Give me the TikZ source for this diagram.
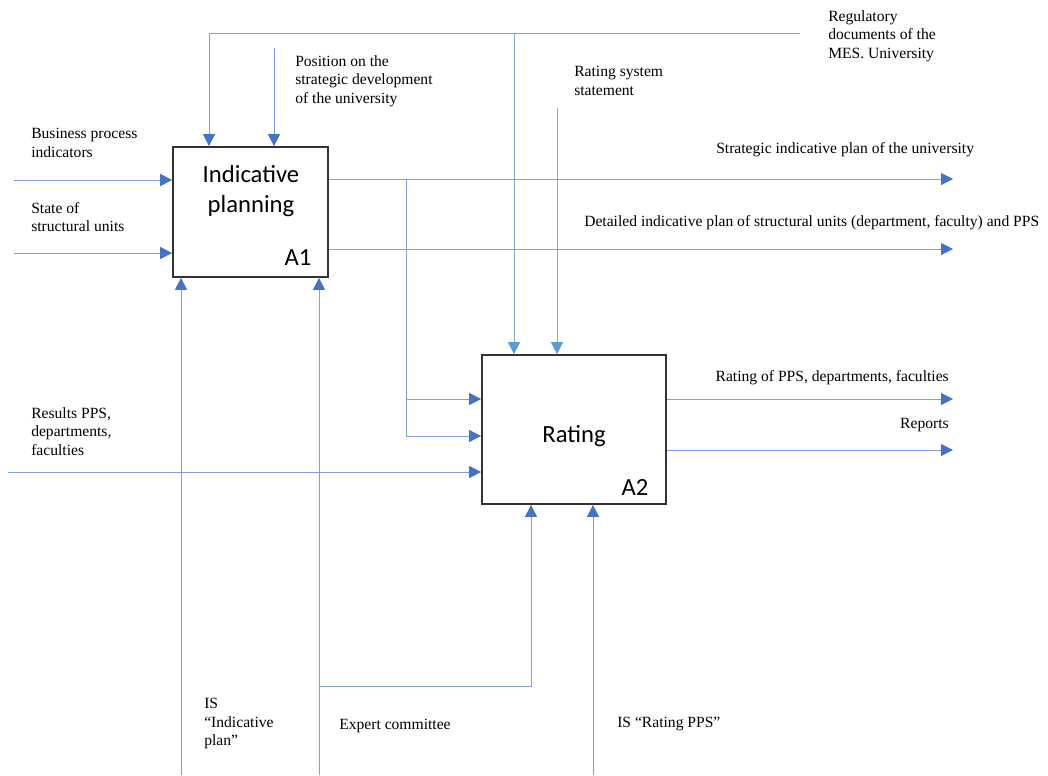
\documentclass[tikz,border=0pt]{standalone}
\usepackage{fontspec}
\setmainfont{Liberation Serif}
\newfontfamily\boxfont{Carlito}
\usetikzlibrary{arrows.meta}
\definecolor{tipblue}{HTML}{4472C4}
\definecolor{lineblue}{HTML}{7E9EDC}
\definecolor{skyblue}{HTML}{5B9BD5}
\begin{document}
\begin{tikzpicture}[x=0.75pt,y=-0.75pt,
  flow/.style={draw=lineblue, line width=0.75pt, -{Triangle[length=9pt,width=9pt,color=tipblue]}},
  flowsky/.style={draw=skyblue!80, line width=0.75pt, -{Triangle[length=9pt,width=9pt,color=skyblue]}},
  plain/.style={draw=lineblue, line width=0.75pt},
  fbox/.style={draw=black!80, line width=1.3pt, fill=white, inner sep=0pt},
  lab/.style={font=\fontsize{11.7}{14}\selectfont, inner sep=0pt, align=left, anchor=north west},
  labr/.style={font=\fontsize{11.7}{14}\selectfont, inner sep=0pt, align=right, anchor=north east},
  title/.style={font=\boxfont\fontsize{18.5}{23}\selectfont, inner sep=0pt, align=center},
  code/.style={font=\boxfont\fontsize{18.5}{22}\selectfont, inner sep=0pt},
]
\useasboundingbox (0,0) rectangle (1048,775);

% boxes
\node[fbox, minimum width=116.25pt, minimum height=97.5pt] (A1) at (250.5,212) {};
\node[fbox, minimum width=138pt, minimum height=111.75pt] (A2) at (574,429.5) {};
\node[title] (A1t) at (251,191) {Indicative\\planning};
\node[code] (A1c) at (298,258) {A1};
\node[title] (A2t) at (574,436) {Rating};
\node[code] (A2c) at (635,487) {A2};

% free ends
\coordinate (bpi) at (14,180);
\coordinate (ssu) at (14,253);
\coordinate (reg) at (800,33);
\coordinate (regL) at (209,33);
\coordinate (regM) at (514,33);
\coordinate (pos) at (274,48);
\coordinate (rss) at (557,108);
\coordinate (o1) at (953,179);
\coordinate (o2) at (953,249);
\coordinate (br) at (406,179);
\coordinate (b1) at (406,399);
\coordinate (b2) at (406,436);
\coordinate (res) at (8,472);
\coordinate (m1) at (181,775);
\coordinate (m2) at (319,775);
\coordinate (ec) at (319,686);
\coordinate (ec2) at (531,686);
\coordinate (m3) at (593,775);
\coordinate (r1) at (953,399);
\coordinate (r2) at (953,450);

% inputs
\draw[flow] (bpi) -- (bpi -| A1.west);
\draw[flow] (ssu) -- (ssu -| A1.west);
\draw[flow] (res) -- (res -| A2.west);
% controls
\draw[flow] (reg) -- (regL) -- (regL |- A1.north);
\draw[flowsky] (regM) -- (regM |- A2.north);
\draw[flow] (pos) -- (pos |- A1.north);
\draw[flowsky] (rss) -- (rss |- A2.north);
% outputs
\draw[flow] (A1.east |- o1) -- (o1);
\draw[flow] (A1.east |- o2) -- (o2);
\draw[flow] (br) -- (b1) -- (b1 -| A2.west);
\draw[flow] (b1) -- (b2) -- (b2 -| A2.west);
\draw[flow] (A2.east |- r1) -- (r1);
\draw[flow] (A2.east |- r2) -- (r2);
% mechanisms
\draw[flow] (m1) -- (m1 |- A1.south);
\draw[flow] (m2) -- (m2 |- A1.south);
\draw[flow] (ec) -- (ec2) -- (ec2 |- A2.south);
\draw[flow] (m3) -- (m3 |- A2.south);

% labels
\node[lab] (Lbpi) at (31,128) {Business process\\indicators};
\node[lab] (Lssu) at (31,202) {State of\\structural units};
\node[lab] (Lpos) at (295,55) {Position on the\\strategic development\\of the university};
\node[lab] (Lreg) at (828,10) {Regulatory\\documents of the\\MES. University};
\node[lab] (Lrss) at (574,66) {Rating system\\statement};
\node[lab] (Lo1) at (716,142) {Strategic indicative plan of the university};
\node[lab] (Lo2) at (584,215) {Detailed indicative plan of structural units (department, faculty) and PPS};
\node[lab] (Lres) at (31,407) {Results PPS,\\departments,\\faculties};
\node[lab] (Lm1) at (204,698) {IS\\“Indicative\\plan”};
\node[lab] (Lec) at (339,719) {Expert committee};
\node[lab] (Lm3) at (617,717) {IS “Rating PPS”};
\node[labr] (Lr1) at (949,370) {Rating of PPS, departments, faculties};
\node[labr] (Lr2) at (949,418) {Reports};
\end{tikzpicture}
\end{document}
